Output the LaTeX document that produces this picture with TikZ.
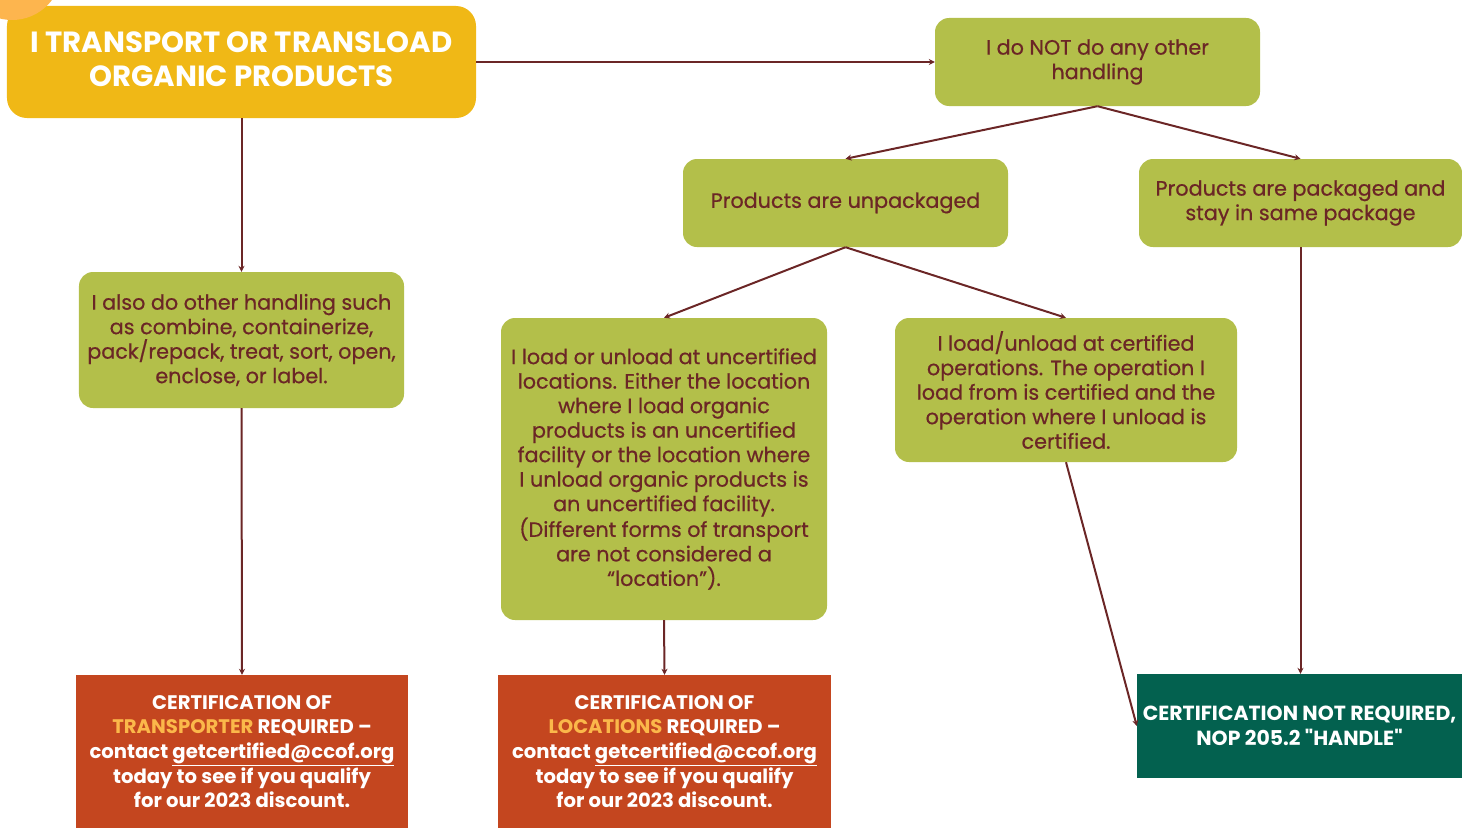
\documentclass[tikz,border=0pt]{standalone}
\usepackage{fontspec}
\setmainfont{Poppins}
\newfontfamily\medfont[FakeBold=0.6]{Poppins}
\newfontfamily\qfont[Ligatures=TeXOff]{Poppins}
\usetikzlibrary{arrows.meta}
\definecolor{gold}{HTML}{F0B816}
\definecolor{circ}{HTML}{FDB54E}
\definecolor{olivebox}{HTML}{B3BF4A}
\definecolor{maroon}{HTML}{6B2626}
\definecolor{rust}{HTML}{C4461F}
\definecolor{tealbox}{HTML}{03614F}
\definecolor{hilite}{HTML}{FBB84A}
\tikzset{
  gbox/.style={fill=olivebox, rounded corners=14bp, text=maroon, align=center, inner sep=0pt,
    font=\medfont\fontsize{20.8}{24.6}\selectfont},
  rbox/.style={fill=rust, text=white, align=center, inner sep=0pt,
    font=\bfseries\fontsize{19.7}{24.7}\selectfont},
  conn/.style={draw=maroon, line width=2bp, -{Stealth[length=6bp,width=6bp]}}
}
\begin{document}
\begin{tikzpicture}[x=1bp,y=-1bp]
\useasboundingbox (0,0) rectangle (1462,828);
\node[fill=gold, rounded corners=20bp, inner sep=0pt,
  minimum width=469bp, minimum height=112bp] (top) at (241.5,62) {};
\node[text=white, align=center, inner sep=0pt, font=\bfseries\fontsize{29.3}{34}\selectfont]
  (toptext) at ([yshift=3bp]top.center) {I TRANSPORT OR TRANSLOAD\\ORGANIC PRODUCTS};
\fill[circ] (12,-30) circle (50);
\node[gbox, minimum width=325bp, minimum height=88bp] (notb) at (1097.5,62)
  {I do NOT do any other\\handling};
\node[gbox, minimum width=325bp, minimum height=88bp] (unp) at (845.5,203)
  {Products are unpackaged};
\node[gbox, minimum width=323bp, minimum height=88bp] (pack) at (1300.5,203)
  {Products are packaged and\\stay in same package};
\node[gbox, minimum width=325bp, minimum height=136bp] (also) at (241.5,340)
  {I also do other handling such\\as combine, containerize,\\pack/repack, treat, sort, open,\\enclose, or label.};
\node[gbox, minimum width=326bp, minimum height=302bp] (unc) at (664,469)
  {I load or unload at uncertified\\locations. Either the location\\where I load organic\\products is an uncertified\\facility or the location where\\I unload organic products is\\an uncertified facility.\\(Different forms of transport\\are not considered a\\“location”).};
\node[gbox, minimum width=342bp, minimum height=144bp] (cert) at (1066,390)
  {I load/unload at certified\\operations. The operation I\\load from is certified and the\\operation where I unload is\\certified.};
\node[rbox, minimum width=332bp, minimum height=153bp] (red1) at (242,751.5)
  {CERTIFICATION OF\\\textcolor{hilite}{TRANSPORTER} REQUIRED –\\contact \underline{getcertified@ccof.org}\\today to see if you qualify\\for our 2023 discount.};
\node[rbox, minimum width=333bp, minimum height=153bp] (red2) at (664.5,751.5)
  {CERTIFICATION OF\\\textcolor{hilite}{LOCATIONS} REQUIRED –\\contact \underline{getcertified@ccof.org}\\today to see if you qualify\\for our 2023 discount.};
\node[fill=tealbox, text=white, align=center, inner sep=0pt, minimum width=325bp, minimum height=104bp,
  font=\qfont\bfseries\fontsize{20.5}{24.7}\selectfont] (teal) at (1299.5,726)
  {CERTIFICATION NOT REQUIRED,\\NOP 205.2 "HANDLE"};
\draw[conn] (top.east) -- (notb.west);
\draw[conn] (top.south) -- (also.north);
\draw[conn] (also.south) -- (red1.north);
\draw[conn] (notb.south) -- (unp.north);
\draw[conn] (notb.south) -- (pack.north);
\draw[conn] (unp.south) -- (unc.north);
\draw[conn] (unp.south) -- (cert.north);
\draw[conn] (unc.south) -- (red2.north);
\draw[conn] (pack.south) -- (teal.north -| pack.south);
\draw[conn] (cert.south) -- (teal.west);
\end{tikzpicture}
\end{document}
